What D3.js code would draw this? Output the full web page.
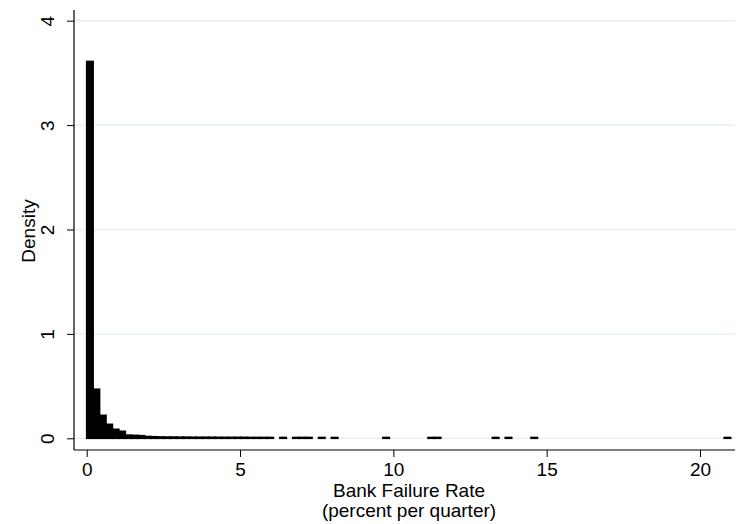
<!DOCTYPE html>
<html>
<head>
<meta charset="utf-8">
<script src="https://cdn.jsdelivr.net/npm/d3@7/dist/d3.min.js"></script>
<style>
  html, body { margin: 0; padding: 0; background: #fff; }
  svg { display: block; }
  text { font-family: "Liberation Sans", Arial, sans-serif; fill: #000; }
</style>
</head>
<body>
<svg id="chart" width="737" height="524"></svg>
<script>
// ---- data ----
const binWidth = 0.21;               // percent per quarter
const densities = [
  3.61, 0.47, 0.22, 0.134, 0.086, 0.067, 0.030, 0.028, 0.025, 0.017,
  0.015, 0.013, 0.012, 0.012, 0.011, 0.011, 0.010, 0.010, 0.010, 0.010,
  0.009, 0.009, 0.009, 0.009, 0.009, 0.008, 0.008, 0.008, 0.008, 0,
  0.008, 0, 0.008, 0.008, 0.008, 0, 0.008, 0, 0.008, 0,
  0, 0, 0, 0, 0, 0, 0.008, 0, 0, 0,
  0, 0, 0, 0.008, 0.008, 0, 0, 0, 0, 0,
  0, 0, 0, 0.008, 0, 0.008, 0, 0, 0, 0.008,
  0, 0, 0, 0, 0, 0, 0, 0, 0, 0,
  0, 0, 0, 0, 0, 0, 0, 0, 0, 0,
  0, 0, 0, 0, 0, 0, 0, 0, 0, 0.008
];
const xTicks = [0, 5, 10, 15, 20];
const yTicks = [0, 1, 2, 3, 4];
const xTitle = ["Bank Failure Rate", "(percent per quarter)"];
const yTitle = "Density";

// ---- layout ----
const svg = d3.select("#chart");
const plotLeft = 74, plotRight = 735, plotTop = 10, plotBottom = 450;
const x = d3.scaleLinear().domain([0, 20]).range([86.7, 700]);
const y = d3.scaleLinear().domain([0, 4]).range([438.3, 20.7]);
const fontSize = 19;

// gridlines
svg.append("g").selectAll("line").data(yTicks).join("line")
  .attr("x1", plotLeft).attr("x2", plotRight)
  .attr("y1", d => y(d)).attr("y2", d => y(d))
  .attr("stroke", "#e6eff2").attr("stroke-width", 1.5);

// bars
const bins = densities.map((d, i) => ({x0: i * binWidth, x1: (i + 1) * binWidth, d}))
  .filter(b => b.d > 0);
svg.append("g").selectAll("rect").data(bins).join("rect")
  .attr("x", b => x(b.x0))
  .attr("width", b => x(b.x1) - x(b.x0))
  .attr("y", b => y(b.d))
  .attr("height", b => y(0) - y(b.d))
  .attr("fill", "#000")
  .attr("stroke", "#000")
  .attr("stroke-width", 1.6);

// y axis
const yAxis = d3.axisLeft(y).tickValues(yTicks).tickSize(7).tickPadding(0).tickFormat(d3.format("d"));
const gy = svg.append("g").attr("transform", `translate(${plotLeft},0)`).call(yAxis);
gy.select(".domain").remove();
gy.selectAll(".tick line").attr("stroke", "#000").attr("stroke-width", 1);
gy.selectAll(".tick text")
  .attr("x", 0).attr("dy", null)
  .attr("transform", `translate(${47 - plotLeft},0) rotate(-90)`)
  .attr("text-anchor", "middle")
  .attr("dominant-baseline", "central")
  .style("font-size", fontSize + "px")
  .style("font-family", '"Liberation Sans", Arial, sans-serif');
svg.append("line")
  .attr("x1", plotLeft).attr("x2", plotLeft)
  .attr("y1", plotTop).attr("y2", plotBottom)
  .attr("stroke", "#000").attr("stroke-width", 1.2);

// x axis
const xAxis = d3.axisBottom(x).tickValues(xTicks).tickSize(7).tickPadding(4).tickFormat(d3.format("d"));
const gx = svg.append("g").attr("transform", `translate(0,${plotBottom})`).call(xAxis);
gx.select(".domain").remove();
gx.selectAll(".tick line").attr("stroke", "#000").attr("stroke-width", 1);
gx.selectAll(".tick text")
  .attr("y", 19).attr("dy", null)
  .attr("dominant-baseline", "central")
  .style("font-size", fontSize + "px")
  .style("font-family", '"Liberation Sans", Arial, sans-serif');
svg.append("line")
  .attr("x1", plotLeft).attr("x2", plotRight)
  .attr("y1", plotBottom).attr("y2", plotBottom)
  .attr("stroke", "#000").attr("stroke-width", 1.2);

// axis titles
svg.append("g").selectAll("text").data(xTitle).join("text")
  .attr("x", 409)
  .attr("y", (d, i) => 490 + i * 20)
  .attr("text-anchor", "middle")
  .attr("dominant-baseline", "central")
  .style("font-size", fontSize + "px")
  .text(d => d);

svg.append("text")
  .attr("transform", `translate(28,${(plotTop + plotBottom) / 2 + 1}) rotate(-90)`)
  .attr("text-anchor", "middle")
  .attr("dominant-baseline", "central")
  .style("font-size", fontSize + "px")
  .text(yTitle);
</script>
</body>
</html>
